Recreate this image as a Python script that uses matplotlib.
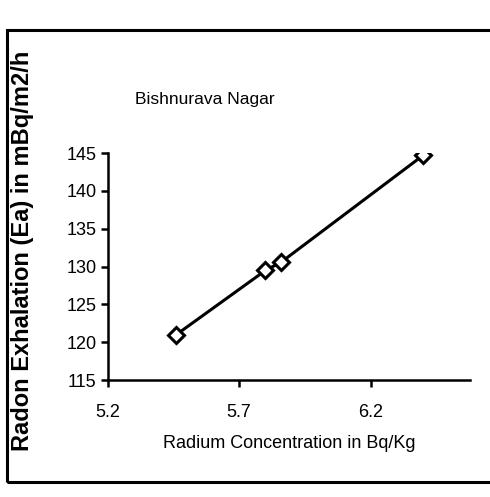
import matplotlib
matplotlib.use('Agg')
import matplotlib.pyplot as plt
from matplotlib.patches import Rectangle

# values
radium = [5.46, 5.80, 5.86, 6.40]          # Bq/Kg
exhalation = [121.0, 129.5, 130.6, 144.7]  # mBq/m2/h
x_ticks = [5.2, 5.7, 6.2]
y_ticks = [115, 120, 125, 130, 135, 140, 145]

plt.rcParams['font.family'] = ['Liberation Sans', 'DejaVu Sans']

fig = plt.figure(figsize=(4.90, 4.97), dpi=100)
ax = fig.add_axes([0.220, 0.235, 0.74, 0.457])

ax.plot(radium, exhalation, color='black', linewidth=2.2,
        marker='D', markersize=8, markerfacecolor='white',
        markeredgecolor='black', markeredgewidth=2.2)

ax.set_xlim(5.2, 6.58)
ax.set_ylim(115, 145)
ax.set_xticks(x_ticks)
ax.set_xticklabels([f'{v:.1f}' for v in x_ticks])
ax.set_yticks(y_ticks)

for side in ['top', 'right']:
    ax.spines[side].set_visible(False)
for side in ['left', 'bottom']:
    ax.spines[side].set_linewidth(1.8)
ax.tick_params(direction='out', length=5, width=1.8, labelsize=13, pad=3)
ax.tick_params(axis='x', pad=12)

ax.set_xlabel('Radium Concentration in Bq/Kg', fontsize=13, labelpad=10)
fig.text(0.045, 0.495, 'Radon Exhalation (Ea) in mBq/m2/h', rotation=90,
         ha='center', va='center', fontsize=17, fontweight='bold')
fig.text(0.275, 0.80, 'Bishnurava Nagar', fontsize=12.5, ha='left', va='center')

# outer border of the chart area
fig.patches.append(Rectangle((0.014, 0.03), 1.0, 0.91, transform=fig.transFigure,
                             fill=False, edgecolor='black', linewidth=2.2))

fig.savefig('out.png', dpi=100)
